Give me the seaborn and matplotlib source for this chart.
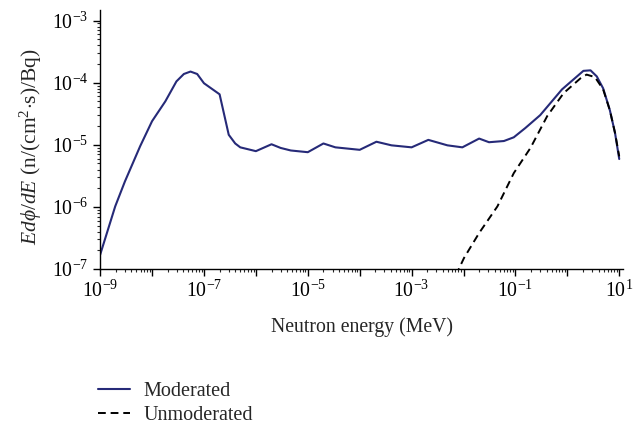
import numpy as np
import pandas as pd
import matplotlib
matplotlib.use("Agg")
import matplotlib.pyplot as plt
import matplotlib.ticker as mticker
import seaborn as sns

# spectrum (energy in MeV, E dphi/dE in n/(cm^2 s)/Bq)
mod_energy = [1e-9, 1.95e-9, 3.0e-9, 5.9e-9, 1e-8, 1.8e-8, 2.95e-8, 4.1e-8, 5.5e-8,
              7.4e-8, 1.0e-7, 2.0e-7, 3.0e-7, 4.0e-7, 5.0e-7, 1e-6, 2.0e-6, 3.0e-6,
              4.7e-6, 1e-5, 2e-5, 3.4e-5, 1e-4, 2.1e-4, 4.1e-4, 1e-3, 2.1e-3, 4.9e-3,
              9.5e-3, 2.0e-2, 3.1e-2, 6.0e-2, 9.3e-2, 0.155, 0.30, 0.79, 2.04, 2.8,
              3.7, 4.9, 6.6, 8.3, 10.0]
mod_flux = [1.70e-7, 1.02e-6, 2.57e-6, 9.5e-6, 2.4e-5, 5.0e-5, 1.05e-4, 1.38e-4, 1.51e-4,
            1.38e-4, 9.8e-5, 6.5e-5, 1.45e-5, 1.05e-5, 9.1e-6, 7.9e-6, 1.02e-5, 8.9e-6,
            8.1e-6, 7.6e-6, 1.05e-5, 9.1e-6, 8.3e-6, 1.12e-5, 9.8e-6, 9.1e-6, 1.2e-5, 9.8e-6,
            9.1e-6, 1.26e-5, 1.1e-5, 1.15e-5, 1.32e-5, 1.86e-5, 3.0e-5, 7.8e-5, 1.55e-4, 1.58e-4,
            1.26e-4, 8.1e-5, 3.6e-5, 1.55e-5, 5.9e-6]

unmod_energy = [7.1e-3, 1.02e-2, 2.0e-2, 4.5e-2, 9.3e-2, 0.195, 0.41, 0.85, 1.78, 2.35,
                3.4, 4.9, 6.6, 8.3, 10.0]
unmod_flux = [7.9e-8, 1.5e-7, 3.8e-7, 1.02e-6, 3.5e-6, 8.9e-6, 2.9e-5, 6.8e-5, 1.17e-4, 1.35e-4,
              1.23e-4, 7.8e-5, 3.6e-5, 1.55e-5, 6.5e-6]

sns.set_style("ticks")
plt.rcParams['font.family'] = ['Liberation Serif', 'DejaVu Serif']
plt.rcParams['mathtext.fontset'] = 'custom'
plt.rcParams['mathtext.rm'] = 'Liberation Serif'
plt.rcParams['mathtext.it'] = 'Liberation Serif:italic'
plt.rcParams['mathtext.bf'] = 'Liberation Serif:bold'

mod = pd.DataFrame({"E": mod_energy, "flux": mod_flux})
unmod = pd.DataFrame({"E": unmod_energy, "flux": unmod_flux})

fig = plt.figure(figsize=(6.42, 4.26), dpi=100)
ax = fig.add_axes([0.156, 0.3685, 0.815, 0.608])

sns.lineplot(data=mod, x="E", y="flux", ax=ax, color="#262a78", lw=1.5,
             label="Moderated", sort=False)
sns.lineplot(data=unmod, x="E", y="flux", ax=ax, color="black", lw=1.4,
             linestyle=(0, (4, 2.5)), label="Unmoderated", sort=False)

ax.set_xscale("log")
ax.set_yscale("log")
ax.set_xlim(1e-9, 10 ** 1.08)
ax.set_ylim(1e-7, 10 ** -2.83)

ax.xaxis.set_major_locator(mticker.LogLocator(base=10, numticks=20))
ax.xaxis.set_minor_locator(mticker.LogLocator(base=10, subs=np.arange(2, 10), numticks=100))


def xfmt(v, pos):
    e = int(round(np.log10(v)))
    return f"$10^{{{e}}}$" if e % 2 != 0 else ""


ax.xaxis.set_major_formatter(mticker.FuncFormatter(xfmt))
ax.xaxis.set_minor_formatter(mticker.NullFormatter())
ax.yaxis.set_major_locator(mticker.LogLocator(base=10, numticks=20))
ax.yaxis.set_minor_locator(mticker.LogLocator(base=10, subs=np.arange(2, 10), numticks=100))
ax.yaxis.set_minor_formatter(mticker.NullFormatter())

ax.tick_params(which="major", direction="out", length=5, width=1, labelsize=14.3, colors="black")
ax.tick_params(which="minor", direction="out", length=2.5, width=0.8)
for s in ["left", "bottom"]:
    ax.spines[s].set_color("black")
    ax.spines[s].set_linewidth(1)
sns.despine(ax=ax)

ax.set_xlabel("Neutron energy (MeV)", fontsize=14.2, labelpad=11)
ax.set_ylabel(r"$Ed\phi/dE$ (n/(cm$^2$$\cdot$s)/Bq)", fontsize=15.5)
ax.yaxis.set_label_coords(-0.108, 0.471)

handles, labels = ax.get_legend_handles_labels()
ax.get_legend().remove()
fig.legend(handles, labels, loc="upper left", bbox_to_anchor=(0.153, 0.103),
           frameon=False, fontsize=14.5, handlelength=1.6, handletextpad=0.65,
           labelspacing=0.22, borderaxespad=0, borderpad=0)

fig.savefig("out.png", dpi=100)
